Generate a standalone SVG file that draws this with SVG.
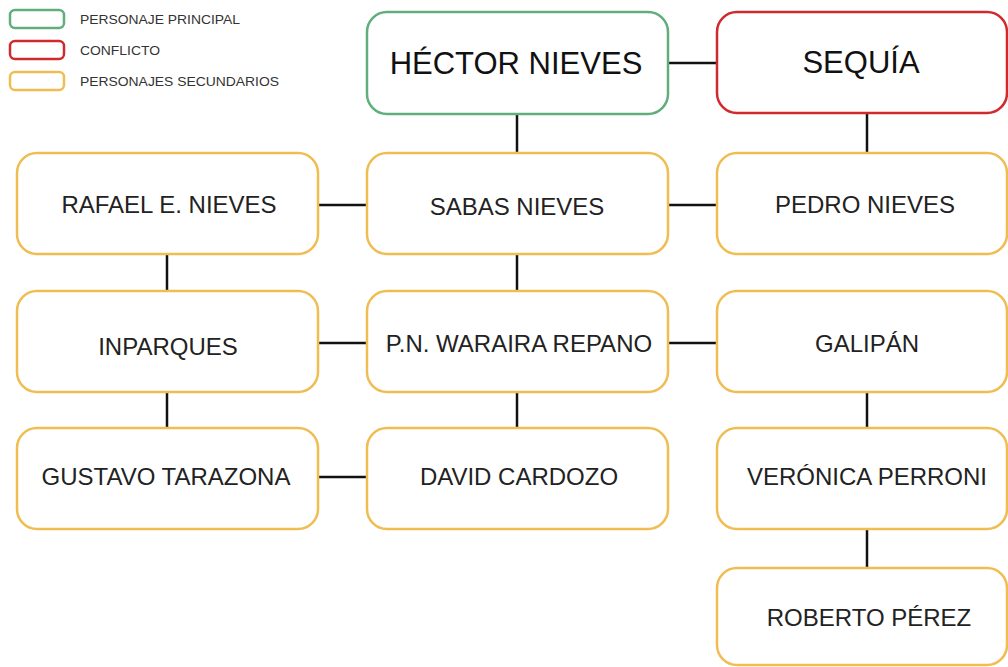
<svg xmlns="http://www.w3.org/2000/svg" width="1008" height="667" viewBox="0 0 1008 667">
<style>
.box{fill:#fff;stroke-width:2.5}
.g{stroke:#5fae7c}
.r{stroke:#cf2a2e}
.o{stroke:#f0bd52}
.t{font-family:"Liberation Sans",Arial,sans-serif;font-size:24px;fill:#222;text-anchor:middle;dominant-baseline:central}
.big{font-size:31px;fill:#111}
.lg{font-family:"Liberation Sans",Arial,sans-serif;font-size:13px;fill:#333}
.c{stroke:#111;stroke-width:2.5;fill:none}
</style>
<rect width="1008" height="667" fill="#fff"/>
<g id="legend">
<rect class="box g" x="10" y="10" width="54" height="18" rx="5"/>
<text class="lg" x="80" y="24" textLength="160" lengthAdjust="spacingAndGlyphs">PERSONAJE PRINCIPAL</text>
<rect class="box r" x="10" y="41" width="54" height="18" rx="5"/>
<text class="lg" x="80" y="55" textLength="80" lengthAdjust="spacingAndGlyphs">CONFLICTO</text>
<rect class="box o" x="10" y="72" width="54" height="18" rx="5"/>
<text class="lg" x="80" y="86" textLength="199" lengthAdjust="spacingAndGlyphs">PERSONAJES SECUNDARIOS</text>
</g>
<g id="connectors">
<line class="c" x1="668" y1="63" x2="717" y2="63"/>
<line class="c" x1="517" y1="114" x2="517" y2="153"/>
<line class="c" x1="867" y1="113" x2="867" y2="153"/>
<line class="c" x1="318" y1="205" x2="367" y2="205"/>
<line class="c" x1="668" y1="205" x2="717" y2="205"/>
<line class="c" x1="167" y1="254" x2="167" y2="291"/>
<line class="c" x1="517" y1="254" x2="517" y2="291"/>
<line class="c" x1="318" y1="343" x2="367" y2="343"/>
<line class="c" x1="668" y1="343" x2="717" y2="343"/>
<line class="c" x1="167" y1="392" x2="167" y2="428"/>
<line class="c" x1="517" y1="392" x2="517" y2="428"/>
<line class="c" x1="867" y1="392" x2="867" y2="428"/>
<line class="c" x1="318" y1="477" x2="367" y2="477"/>
<line class="c" x1="867" y1="529" x2="867" y2="568"/>
</g>
<g id="hector"><rect class="box g" x="367" y="12" width="301" height="102" rx="20"/><text class="t big" x="516" y="63">HÉCTOR NIEVES</text></g>
<g id="sequia"><rect class="box r" x="717" y="12" width="290" height="101" rx="20"/><text class="t big" x="861" y="62">SEQUÍA</text></g>
<g id="rafael"><rect class="box o" x="17" y="153" width="301" height="101" rx="20"/><text class="t" x="169" y="204">RAFAEL E. NIEVES</text></g>
<g id="sabas"><rect class="box o" x="367" y="153" width="301" height="101" rx="20"/><text class="t" x="517" y="206">SABAS NIEVES</text></g>
<g id="pedro"><rect class="box o" x="717" y="153" width="290" height="101" rx="20"/><text class="t" x="865" y="204">PEDRO NIEVES</text></g>
<g id="inparques"><rect class="box o" x="17" y="291" width="301" height="101" rx="20"/><text class="t" x="168" y="346">INPARQUES</text></g>
<g id="waraira"><rect class="box o" x="367" y="291" width="301" height="101" rx="20"/><text class="t" x="519" y="343">P.N. WARAIRA REPANO</text></g>
<g id="galipan"><rect class="box o" x="717" y="291" width="290" height="101" rx="20"/><text class="t" x="867" y="343">GALIPÁN</text></g>
<g id="gustavo"><rect class="box o" x="17" y="428" width="301" height="101" rx="20"/><text class="t" x="166" y="476">GUSTAVO TARAZONA</text></g>
<g id="david"><rect class="box o" x="367" y="428" width="301" height="101" rx="20"/><text class="t" x="519" y="476">DAVID CARDOZO</text></g>
<g id="veronica"><rect class="box o" x="717" y="428" width="290" height="101" rx="20"/><text class="t" x="867" y="476">VERÓNICA PERRONI</text></g>
<g id="roberto"><rect class="box o" x="717" y="568" width="290" height="97" rx="20"/><text class="t" x="869" y="617">ROBERTO PÉREZ</text></g>
</svg>
